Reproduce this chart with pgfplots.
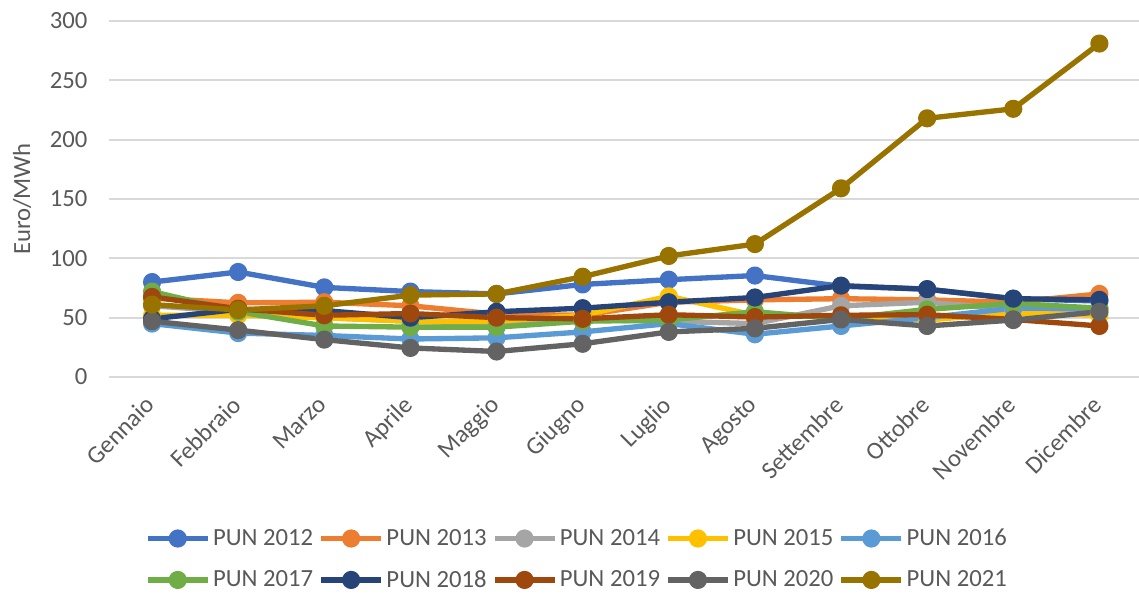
\documentclass[border=0pt]{standalone}
\usepackage{fontspec}
\setmainfont{Carlito}
\usepackage{pgfplots}
\pgfplotsset{compat=1.18}

\definecolor{c12}{HTML}{4472C4}
\definecolor{c13}{HTML}{ED7D31}
\definecolor{c14}{HTML}{A5A5A5}
\definecolor{c15}{HTML}{FFC000}
\definecolor{c16}{HTML}{5B9BD5}
\definecolor{c17}{HTML}{70AD47}
\definecolor{c18}{HTML}{264478}
\definecolor{c19}{HTML}{9E480E}
\definecolor{c20}{HTML}{636363}
\definecolor{c21}{HTML}{997300}
\definecolor{txt}{HTML}{595959}
\definecolor{gridc}{HTML}{D9D9D9}

% Monthly PUN values (Euro/MWh), months 0 = Gennaio ... 11 = Dicembre
\pgfplotstableread{
m  p12   p13   p14  p15  p16  p17  p18  p19   p20   p21
0  80    66.5  60   52   45   72   49   67.5  47    61
1  88.5  62.5  55   52   37   55   57   57.5  39.5  56.5
2  75.5  63    50   50   35   43   56   52    31.5  60
3  72    60    47   47   32   42   50   53.5  24.5  69
4  70    53    45   47   33   42   55   50    21.5  70
5  78    52    48   52   38   47   58   49    28    84.5
6  82    63    47   68   45   48   63   52.5  38    102
7  85.5  65    45   52   36   55   67   50.5  41    112
8  76.5  66    60   51   43   49   77   52    48.5  159
9  74    65    63   48   50   57   74   52.5  43    218
10 66    63    57   54   58   62   66   48.5  48    226
11 64    70    55   52   58   58   65   43    55    281
}\datatable

\begin{document}
\begin{tikzpicture}
\useasboundingbox (-81.75pt,-166.5pt) rectangle (772.5pt,282.75pt);
\begin{axis}[
  at={(0pt,0pt)}, anchor=south west,
  scale only axis,
  width=772.5pt, height=267pt,
  xmin=-0.5, xmax=11.46,
  ymin=0, ymax=300,
  ytick={0,50,...,300},
  xtick={0,...,11},
  xticklabels={Gennaio,Febbraio,Marzo,Aprile,Maggio,Giugno,Luglio,Agosto,Settembre,Ottobre,Novembre,Dicembre},
  axis line style={draw=none},
  major tick length=0pt,
  xmajorgrids=false,
  ymajorgrids=true,
  major grid style={draw=gridc, line width=1.3pt},
  /pgf/number format/assume math mode=true,
  tick label style={font=\fontsize{18.5}{22}\selectfont, text=txt},
  yticklabel style={inner sep=0pt, anchor=east, xshift=-16pt},
  xticklabel style={xshift=-6pt, yshift=-13pt, rotate=45, anchor=north east, inner sep=0pt},
  ylabel={Euro/MWh},
  every axis y label/.style={at={(axis description cs:-0.0845,0.5)}, rotate=90, anchor=center,
    font=\fontsize{18.5}{22}\selectfont, text=txt},
  clip=false,
  every axis plot/.append style={line width=4pt, mark=*, mark size=4.8pt, line join=round},
  legend columns=5,
  legend image code/.code={%
    \draw[#1, mark repeat=2, mark phase=2] plot coordinates {(0pt,0pt) (22.5pt,0pt) (45pt,0pt)};},
  legend style={
    at={(axis description cs:0.454,-0.512)}, anchor=center,
    draw=none, fill=none,
    font=\fontsize{18.5}{22}\selectfont, text=txt,
    nodes={inner sep=1pt},
    row sep=15pt,
    /tikz/every odd column/.style={column sep=1pt},
    /tikz/every even column/.style={column sep=3pt},
  },
]
\addplot[c12, mark options={fill=c12}] table[x=m, y=p12] {\datatable};
\addlegendentry{PUN 2012}
\addplot[c13, mark options={fill=c13}] table[x=m, y=p13] {\datatable};
\addlegendentry{PUN 2013}
\addplot[c14, mark options={fill=c14}] table[x=m, y=p14] {\datatable};
\addlegendentry{PUN 2014}
\addplot[c15, mark options={fill=c15}] table[x=m, y=p15] {\datatable};
\addlegendentry{PUN 2015}
\addplot[c16, mark options={fill=c16}] table[x=m, y=p16] {\datatable};
\addlegendentry{PUN 2016}
\addplot[c17, mark options={fill=c17}] table[x=m, y=p17] {\datatable};
\addlegendentry{PUN 2017}
\addplot[c18, mark options={fill=c18}] table[x=m, y=p18] {\datatable};
\addlegendentry{PUN 2018}
\addplot[c19, mark options={fill=c19}] table[x=m, y=p19] {\datatable};
\addlegendentry{PUN 2019}
\addplot[c20, mark options={fill=c20}] table[x=m, y=p20] {\datatable};
\addlegendentry{PUN 2020}
\addplot[c21, mark options={fill=c21}] table[x=m, y=p21] {\datatable};
\addlegendentry{PUN 2021}
\end{axis}
\end{tikzpicture}
\end{document}
